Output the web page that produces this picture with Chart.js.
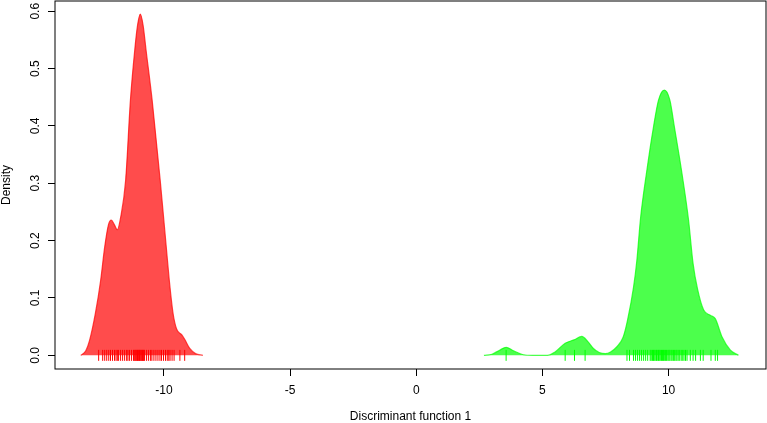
<!DOCTYPE html>
<html>
<head>
<meta charset="utf-8">
<script src="https://cdn.jsdelivr.net/npm/chart.js@4/dist/chart.umd.min.js"></script>
<style>
  html,body{margin:0;padding:0;background:#fff;}
  canvas{display:block;}
</style>
</head>
<body>
<canvas id="c" width="767" height="423"></canvas>
<script>
// density of discriminant function 1
const redX = [-13.30,-13.10,-12.95,-12.72,-12.51,-12.35,-12.20,-12.09,-11.97,-11.85,-11.72,-11.52,-11.33,-11.16,-11.05,-10.94,-10.83,-10.71,-10.47,-10.15,-9.91,-9.79,-9.64,-9.50,-9.30,-9.18,-8.98,-8.75,-8.46];
const redY = [0.000,0.008,0.026,0.073,0.131,0.189,0.228,0.236,0.228,0.219,0.240,0.305,0.445,0.532,0.575,0.595,0.576,0.532,0.445,0.305,0.189,0.131,0.073,0.046,0.036,0.028,0.012,0.003,0.000];
const greenX = [2.68,3.00,3.30,3.56,3.85,4.24,4.60,5.20,5.50,5.90,6.25,6.56,6.80,7.02,7.25,7.49,7.70,7.95,8.20,8.37,8.61,8.74,8.89,9.12,9.40,9.60,9.83,10.05,10.23,10.53,10.79,10.97,11.15,11.39,11.65,11.85,12.12,12.45,12.77];
const greenY = [0.000,0.002,0.009,0.014,0.008,0.001,0.000,0.000,0.006,0.021,0.027,0.033,0.024,0.012,0.005,0.003,0.006,0.015,0.032,0.061,0.119,0.165,0.240,0.317,0.398,0.445,0.4625,0.445,0.398,0.317,0.236,0.160,0.115,0.079,0.070,0.064,0.032,0.009,0.000];

// individual scores (rug marks)
const redRug = [-12.59,-12.43,-12.35,-12.27,-12.19,-12.12,-12.04,-11.96,-11.90,-11.85,-11.80,-11.72,-11.64,-11.56,-11.48,-11.43,-11.37,-11.29,
  -11.21,-11.18,-11.15,-11.12,-11.10,-11.07,-11.05,-11.02,-11.00,-10.97,-10.95,-10.92,-10.90,-10.87,-10.85,-10.82,-10.80,
  -10.77,-10.69,-10.61,-10.53,-10.48,-10.40,-10.32,-10.24,-10.16,-10.10,-10.02,-9.94,-9.87,-9.81,-9.76,-9.68,-9.60,-9.37,-9.18];
const greenRug = [3.56,5.90,6.27,6.69,8.35,8.45,8.61,8.69,8.77,8.85,8.93,9.01,9.09,9.17,
  9.27,9.31,9.36,9.40,9.43,9.47,9.52,9.55,9.60,9.63,9.67,9.72,9.76,9.80,9.83,9.88,9.92,9.97,10.01,10.05,10.10,10.14,10.19,10.24,10.29,10.33,10.38,10.44,10.50,10.56,10.61,10.67,10.73,
  10.86,10.97,11.07,11.26,11.37,11.68,11.85,11.94];

const xTicks = [-10,-5,0,5,10];
const yTicks = [0,0.1,0.2,0.3,0.4,0.5,0.6];
const xTitle = 'Discriminant function 1';
const yTitle = 'Density';

const FONT = '"Liberation Sans", Arial, sans-serif';

function pts(xs, ys){ return xs.map((x,i)=>({x:x, y:ys[i]})); }
function rug(xs){ return xs.map(x=>({x:x, y:0})); }

// box round the plot + rotated y tick labels (R style)
const boxPlugin = {
  id:'box',
  afterDraw(chart){
    const ctx = chart.ctx, ca = chart.chartArea, ys = chart.scales.y;
    ctx.save();
    ctx.strokeStyle = '#000'; ctx.lineWidth = 1;
    ctx.strokeRect(ca.left, ca.top, ca.right-ca.left, ca.bottom-ca.top);
    ctx.fillStyle = '#000'; ctx.font = '12px '+FONT;
    ctx.textAlign = 'center'; ctx.textBaseline = 'middle';
    ys.ticks.forEach(t=>{
      const y = ys.getPixelForValue(t.value);
      ctx.save(); ctx.translate(36, y); ctx.rotate(-Math.PI/2);
      ctx.fillText(t.value.toFixed(1), 0, 0);
      ctx.restore();
    });
    ctx.restore();
  }
};

function rugSet(xs, col){
  return {data:rug(xs), showLine:false, borderColor:col, pointBorderColor:col, pointBackgroundColor:col,
    pointStyle:'line', rotation:90, pointRadius:5.5, pointBorderWidth:1};
}
function densSet(xs, ys, col){
  return {data:pts(xs,ys), borderColor:col, backgroundColor:col, borderWidth:1.2,
    fill:{value:0}, pointRadius:0, cubicInterpolationMode:'monotone'};
}

new Chart(document.getElementById('c'), {
  type:'line',
  data:{
    datasets:[
      rugSet(redRug, '#ff0000'),
      rugSet(greenRug, '#00ff00'),
      densSet(redX, redY, 'rgba(255,0,0,0.7)'),
      densSet(greenX, greenY, 'rgba(0,255,0,0.7)')
    ]
  },
  options:{
    responsive:false, animation:false,
    layout:{autoPadding:false, padding:{top:1, right:1, left:0, bottom:0}},
    plugins:{legend:{display:false}, tooltip:{enabled:false}},
    scales:{
      x:{
        type:'linear', min:-14.32, max:13.86,
        afterBuildTicks(s){ s.ticks = xTicks.map(v=>({value:v})); },
        afterFit(s){ s.height = 54; s.paddingLeft = 0; s.paddingRight = 0; },
        grid:{drawOnChartArea:false, drawTicks:true, tickLength:7, color:'#000'},
        border:{display:false},
        ticks:{color:'#000', font:{family:FONT, size:12}, padding:7, maxRotation:0},
        title:{display:true, text:xTitle, color:'#000', font:{family:FONT, size:12}, padding:{top:0, bottom:-1}}
      },
      y:{
        type:'linear', min:-0.0238, max:0.6178,
        afterBuildTicks(s){ s.ticks = yTicks.map(v=>({value:v})); },
        afterFit(s){ s.width = 55; s.paddingTop = 0; s.paddingBottom = 0; },
        grid:{drawOnChartArea:false, drawTicks:true, tickLength:7, color:'#000'},
        border:{display:false},
        ticks:{display:false},
        title:{display:true, text:yTitle, color:'#000', font:{family:FONT, size:12}, padding:{top:-1, bottom:0}}
      }
    }
  },
  plugins:[boxPlugin]
});
</script>
</body>
</html>
